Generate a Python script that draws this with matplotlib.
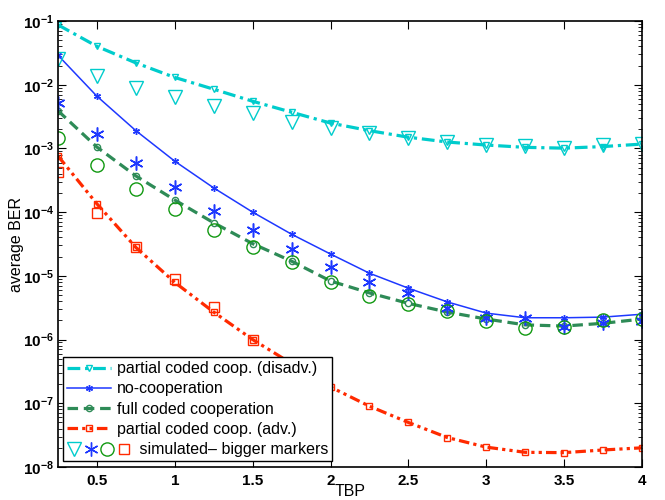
import numpy as np
import matplotlib.pyplot as plt
from matplotlib.lines import Line2D
from matplotlib.legend_handler import HandlerTuple
from matplotlib.ticker import LogLocator, NullFormatter, FuncFormatter

plt.rcParams['font.family'] = ['Liberation Sans', 'DejaVu Sans']
plt.rcParams['mathtext.fontset'] = 'custom'
plt.rcParams['mathtext.rm'] = 'Liberation Sans'
plt.rcParams['mathtext.bf'] = 'Liberation Sans:bold'

tbp = [0.25, 0.5, 0.75, 1.0, 1.25, 1.5, 1.75, 2.0, 2.25, 2.5, 2.75, 3.0, 3.25, 3.5, 3.75, 4.0]

# theory curves
disadv = [0.087, 0.04, 0.022, 0.013, 0.0085, 0.0055, 0.0037, 0.0025, 0.0019, 0.0015,
          0.00126, 0.00113, 0.00104, 0.00101, 0.00107, 0.00117]
nocoop = [0.029, 0.0066, 0.0019, 0.00063, 0.00024, 0.0001, 4.5e-5, 2.2e-5, 1.1e-5, 6.4e-6,
          3.9e-6, 2.6e-6, 2.2e-6, 2.2e-6, 2.25e-6, 2.5e-6]
fullcoop = [0.0039, 0.00105, 0.00037, 0.000155, 6.8e-5, 3.2e-5, 1.7e-5, 8.3e-6, 5.4e-6, 3.7e-6,
            2.7e-6, 2.1e-6, 1.7e-6, 1.63e-6, 1.8e-6, 2.1e-6]
adv = [0.00076, 0.000135, 2.8e-5, 7.9e-6, 2.7e-6, 1e-6, 4.2e-7, 1.8e-7, 9e-8, 5e-8,
       2.9e-8, 2.05e-8, 1.7e-8, 1.68e-8, 1.85e-8, 2e-8]

# simulated points
disadv_sim = [0.025, 0.0138, 0.0089, 0.0063, 0.0047, 0.0036, 0.0026, 0.0021, 0.00174, 0.00147,
              0.00126, 0.00113, 0.0011, 0.00103, 0.00112, 0.00117]
nocoop_sim = [0.0051, 0.0017, 0.00059, 0.00025, 0.000105, 5.2e-5, 2.6e-5, 1.4e-5, 8e-6, 5.4e-6,
              3.1e-6, 2.2e-6, 2.2e-6, 1.6e-6, 1.8e-6, 1.95e-6]
fullcoop_sim = [0.00145, 0.00054, 0.00023, 0.000112, 5.3e-5, 2.8e-5, 1.65e-5, 8e-6, 4.8e-6, 3.6e-6,
                2.8e-6, 1.95e-6, 1.5e-6, 1.6e-6, 2.05e-6, 2.1e-6]
tbp_adv_sim = [0.25, 0.5, 0.75, 1.0, 1.25, 1.5]
adv_sim = [0.00043, 9.8e-5, 2.8e-5, 9e-6, 3.2e-6, 1e-6]

c_cyan = '#00CCCC'
c_blue = '#1E38FF'
c_green = '#2E8B57'
c_green2 = '#119911'
c_red = '#FF2A00'
asterisk = (6, 2, 0)

fig = plt.figure(figsize=(6.65, 5), dpi=100)
ax = fig.add_axes([0.0872, 0.066, 0.8782, 0.892])

l1, = ax.semilogy(tbp, disadv, color=c_cyan, lw=2.3, ls=(0, (4, 1.5, 1, 1.5)),
                  marker='v', ms=5, mfc='none', mew=1)
l2, = ax.semilogy(tbp, nocoop, color=c_blue, lw=1.1, ls='-', marker=asterisk, ms=5, mew=1)
l3, = ax.semilogy(tbp, fullcoop, color=c_green, lw=2.3, ls=(0, (3.3, 1.8)),
                  marker='o', ms=4.5, mfc='none', mew=1)
l4, = ax.semilogy(tbp, adv, color=c_red, lw=2.3, ls=(0, (3.3, 1.3, 1, 1.3, 1, 1.3)),
                  marker='s', ms=4.5, mfc='none', mew=1)

s1, = ax.semilogy(tbp, disadv_sim, ls='none', marker='v', ms=10.5, mfc='none', mec=c_cyan, mew=1)
s2, = ax.semilogy(tbp, nocoop_sim, ls='none', marker=asterisk, ms=10, mec=c_blue, mew=1.1)
s3, = ax.semilogy(tbp, fullcoop_sim, ls='none', marker='o', ms=9.5, mfc='none', mec=c_green2, mew=1)
s4, = ax.semilogy(tbp_adv_sim, adv_sim, ls='none', marker='s', ms=7.5, mfc='none', mec=c_red, mew=1)

ax.set_xlim(0.25, 4)
ax.set_ylim(1e-8, 1e-1)
ax.set_xticks([0.5, 1, 1.5, 2, 2.5, 3, 3.5, 4])
ax.set_xticklabels(['0.5', '1', '1.5', '2', '2.5', '3', '3.5', '4'])
ax.yaxis.set_major_locator(LogLocator(base=10, numticks=12))
ax.yaxis.set_major_formatter(FuncFormatter(lambda v, p: r'$\mathbf{10^{%d}}$' % round(np.log10(v))))
ax.yaxis.set_minor_locator(LogLocator(base=10, subs=np.arange(2, 10), numticks=12))
ax.yaxis.set_minor_formatter(NullFormatter())
ax.tick_params(which='both', direction='in', top=True, right=True, labelsize=11)
ax.tick_params(which='major', length=6)
ax.tick_params(which='minor', length=3)
ax.tick_params(axis='y', pad=3)
ax.tick_params(axis='x', pad=5)
for lab in ax.get_xticklabels():
    lab.set_fontweight('bold')
for sp in ax.spines.values():
    sp.set_linewidth(1.2)

ax.set_xlabel('TBP', fontsize=11.5, labelpad=-3)
ax.set_ylabel('average BER', fontsize=11.5, labelpad=-1)


class WideTuple(HandlerTuple):
    def create_artists(self, legend, orig_handle, xdescent, ydescent, width, height, fontsize, trans):
        return super().create_artists(legend, orig_handle, xdescent, ydescent, width * 1.45,
                                      height, fontsize, trans)


sim_handles = tuple(Line2D([], [], ls='none', marker=m, ms=s, mfc=fc, mec=c, mew=1)
                    for m, c, fc, s in [('v', c_cyan, 'none', 10), (asterisk, c_blue, c_blue, 10),
                                        ('o', c_green2, 'none', 9.5), ('s', c_red, 'none', 7.5)])

leg = ax.legend([l1, l2, l3, l4, sim_handles],
                ['partial coded coop. (disadv.)', 'no-cooperation', 'full coded cooperation',
                 'partial coded coop. (adv.)', '     simulated\u2013 bigger markers'],
                handler_map={tuple: WideTuple(ndivide=None, pad=0.1)},
                loc='lower left', bbox_to_anchor=(0.008, 0.013), fontsize=11.5,
                numpoints=1, handlelength=2.8, handletextpad=0.35, labelspacing=0.33,
                borderpad=0.25, borderaxespad=0, fancybox=False, edgecolor='black', framealpha=1)
leg.get_frame().set_linewidth(1)

fig.savefig('out.png', dpi=100)
